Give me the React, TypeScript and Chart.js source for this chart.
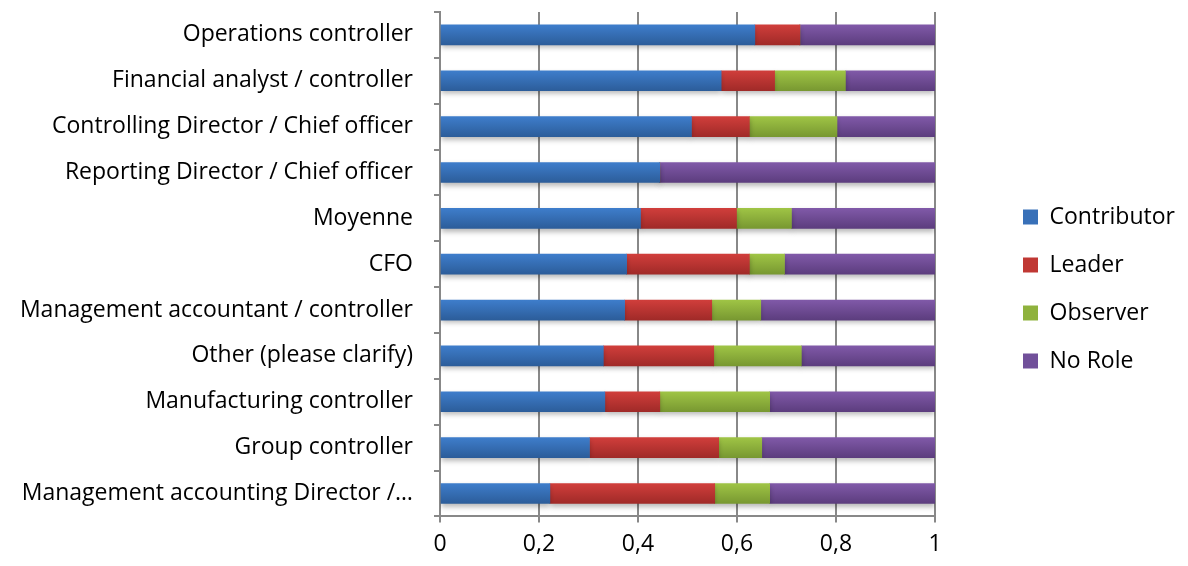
import { useEffect, useRef } from 'react';
import { Chart, registerables } from 'chart.js';

Chart.register(...registerables);

const categories = [
  'Operations controller',
  'Financial analyst / controller',
  'Controlling Director / Chief officer',
  'Reporting Director / Chief officer',
  'Moyenne',
  'CFO',
  'Management accountant / controller',
  'Other (please clarify)',
  'Manufacturing controller',
  'Group controller',
  'Management accounting Director /…',
];

const contributor = [0.636, 0.568, 0.508, 0.444, 0.405, 0.377, 0.373, 0.33, 0.333, 0.302, 0.222];
const leader = [0.091, 0.108, 0.117, 0, 0.194, 0.248, 0.176, 0.223, 0.111, 0.261, 0.333];
const observer = [0, 0.143, 0.177, 0, 0.111, 0.071, 0.099, 0.177, 0.222, 0.087, 0.111];
const noRole = [0.273, 0.181, 0.198, 0.556, 0.29, 0.304, 0.352, 0.27, 0.334, 0.35, 0.334];

const seriesNames = ['Contributor', 'Leader', 'Observer', 'No Role'];
const xTickLabels = ['0', '0,2', '0,4', '0,6', '0,8', '1'];

const FONT = '"Open Sans", Lato, sans-serif';

function gradientFill(top: string, bottom: string) {
  return (ctx: any) => {
    const chart = ctx.chart;
    const y = chart.scales && chart.scales.y;
    if (!y || ctx.type !== 'data') return top;
    const c = y.getPixelForValue(ctx.dataIndex);
    const g = chart.ctx.createLinearGradient(0, c - 10, 0, c + 10);
    g.addColorStop(0, top);
    g.addColorStop(1, bottom);
    return g;
  };
}

const palette = [
  { top: '#3e7dcb', bottom: '#2c5d9a', solid: '#3870b8' },
  { top: '#d03e3b', bottom: '#a02a28', solid: '#c03834' },
  { top: '#9fc445', bottom: '#789831', solid: '#8fb23d' },
  { top: '#8059a8', bottom: '#5c3d7e', solid: '#71509a' },
];

const barShadow = {
  id: 'barShadow',
  beforeDatasetsDraw(chart: any) {
    const c = chart.ctx;
    c.save();
    c.shadowColor = 'rgba(0,0,0,0.28)';
    c.shadowBlur = 5;
    c.shadowOffsetY = 3;
  },
  afterDatasetsDraw(chart: any) {
    chart.ctx.restore();
  },
};

export default function App() {
  const ref = useRef<HTMLCanvasElement | null>(null);

  useEffect(() => {
    if (!ref.current) return;
    const values = [contributor, leader, observer, noRole];
    const chart = new Chart(ref.current, {
      type: 'bar',
      data: {
        labels: categories,
        datasets: values.map((d, i) => ({
          label: seriesNames[i],
          data: d,
          backgroundColor: gradientFill(palette[i].top, palette[i].bottom),
          borderWidth: 0,
          barThickness: 20,
        })),
      },
      plugins: [barShadow],
      options: {
        indexAxis: 'y',
        animation: false,
        responsive: true,
        maintainAspectRatio: false,
        layout: { padding: { top: 4, left: 0, right: 0, bottom: 0 } },
        plugins: {
          tooltip: { enabled: false },
          legend: {
            position: 'right',
            maxWidth: 182,
            labels: {
              color: '#000',
              font: { family: FONT, size: 23 },
              boxWidth: 15,
              boxHeight: 15,
              padding: 25,
              generateLabels: () =>
                seriesNames.map((name, i) => ({
                  text: name,
                  fillStyle: palette[i].solid,
                  strokeStyle: palette[i].solid,
                  lineWidth: 0,
                  datasetIndex: i,
                  hidden: false,
                  fontColor: '#000',
                })),
            },
          },
        },
        scales: {
          x: {
            stacked: true,
            min: 0,
            max: 1,
            ticks: {
              stepSize: 0.2,
              color: '#000',
              font: { family: FONT, size: 23 },
              padding: 8,
              maxRotation: 0,
              callback: (_v: any, i: number) => xTickLabels[i],
            },
            grid: { color: '#888888', lineWidth: 2, tickLength: 6, drawTicks: true },
            border: { display: true, color: '#888888', width: 2 },
          },
          y: {
            stacked: true,
            ticks: {
              color: '#000',
              font: { family: FONT, size: 23 },
              padding: 21,
              autoSkip: false,
            },
            grid: { drawOnChartArea: false, drawTicks: true, tickLength: 6, color: '#888888', lineWidth: 2 },
            border: { display: true, color: '#888888', width: 2 },
            afterFit: (s: any) => {
              s.width = 432;
              s.paddingTop = 0;
              s.paddingBottom = 0;
            },
          },
          y2: {
            type: 'category',
            position: 'right',
            display: true,
            grid: { display: false },
            border: { display: false },
            ticks: { display: false },
            afterFit: (s: any) => {
              s.width = 63;
              s.paddingTop = 0;
              s.paddingBottom = 0;
            },
          },
        },
      } as any,
    });
    return () => chart.destroy();
  }, []);

  return (
    <div style={{ width: '100%', height: 558, position: 'relative' }}>
      <canvas ref={ref} />
    </div>
  );
}
